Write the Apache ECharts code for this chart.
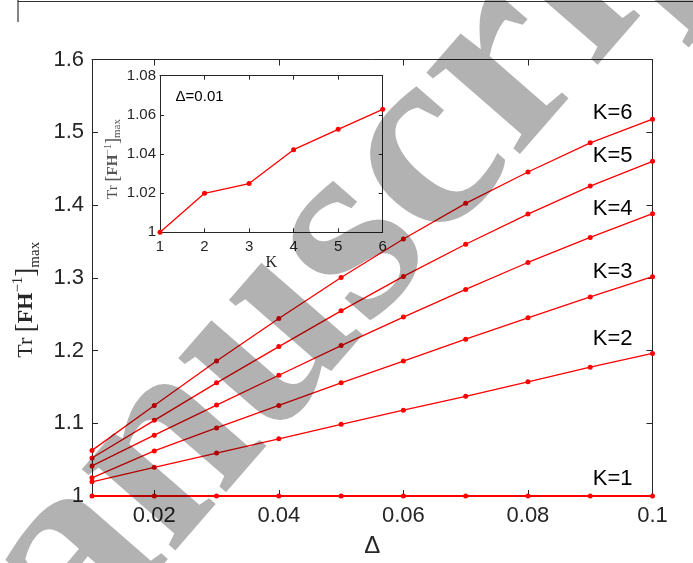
<!DOCTYPE html>
<html>
<head>
<meta charset="utf-8">
<script src="https://cdn.jsdelivr.net/npm/echarts@6/dist/echarts.min.js"></script>
<style>
html,body{margin:0;padding:0;background:#fff;}
#chart{width:693px;height:563px;}
</style>
</head>
<body>
<div id="chart"></div>
<script>
// ---- data ----
const deltas = [0.01, 0.02, 0.03, 0.04, 0.05, 0.06, 0.07, 0.08, 0.09, 0.1];
const K1 = [1, 1, 1, 1, 1, 1, 1, 1, 1, 1];
const K2 = [1.0195, 1.0395, 1.059, 1.0786, 1.0986, 1.118, 1.137, 1.157, 1.177, 1.196];
const K3 = [1.025, 1.062, 1.0936, 1.1245, 1.1555, 1.1855, 1.2155, 1.245, 1.2736, 1.3014];
const K4 = [1.0413, 1.0836, 1.125, 1.166, 1.2068, 1.246, 1.284, 1.321, 1.3554, 1.388];
const K5 = [1.0523, 1.104, 1.1555, 1.2054, 1.2545, 1.3018, 1.346, 1.3875, 1.426, 1.46];
const K6 = [1.0627, 1.1245, 1.1855, 1.244, 1.3004, 1.3532, 1.4023, 1.4454, 1.4855, 1.518];
const seriesNames = ['K=1', 'K=2', 'K=3', 'K=4', 'K=5', 'K=6'];
const insetK = [1, 2, 3, 4, 5, 6];
const insetVals = [1.0, 1.0199, 1.0249, 1.0422, 1.0526, 1.0628];
const xTickValues = [0.02, 0.04, 0.06, 0.08, 0.1];
const insetNote = 'Δ=0.01';

// ---- build ----
const allK = [K1, K2, K3, K4, K5, K6];
const labelAnchorY = [1.0232, 1.2163, 1.3082, 1.3945, 1.4672, 1.5268];
const txt = '#262626';
const RED = '#ff0000';

const chart = echarts.init(document.getElementById('chart'), null, {renderer: 'canvas'});

function boxAxis(base, extra) { return Object.assign({}, base, extra); }

const mainX = {
  type: 'value', gridIndex: 0, min: 0.01, max: 0.1,
  splitLine: {show: false},
  axisLine: {show: true, onZero: false, lineStyle: {color: txt, width: 1}},
  axisTick: {show: true, inside: true, length: 6, customValues: xTickValues, lineStyle: {color: txt}},
};
const mainY = {
  type: 'value', gridIndex: 0, min: 1, max: 1.6, interval: 0.1,
  splitLine: {show: false},
  axisLine: {show: true, onZero: false, lineStyle: {color: txt, width: 1}},
  axisTick: {show: true, inside: true, length: 6, lineStyle: {color: txt}},
};
const insX = {
  type: 'value', gridIndex: 1, min: 1, max: 6, interval: 1,
  splitLine: {show: false},
  axisLine: {show: true, onZero: false, lineStyle: {color: txt, width: 1}},
  axisTick: {show: true, inside: true, length: 4, lineStyle: {color: txt}},
};
const insY = {
  type: 'value', gridIndex: 1, min: 1, max: 1.08, interval: 0.02,
  splitLine: {show: false},
  axisLine: {show: true, onZero: false, lineStyle: {color: txt, width: 1}},
  axisTick: {show: true, inside: true, length: 4, lineStyle: {color: txt}},
};

const serifMain = '"Liberation Serif", "DejaVu Serif", serif';
const sans = '"Liberation Sans", Arial, sans-serif';

const mainSeries = allK.map((vals, i) => ({
  type: 'line', name: seriesNames[i], xAxisIndex: 0, yAxisIndex: 0,
  data: deltas.map((d, j) => [d, vals[j]]),
  symbol: 'circle', symbolSize: 5, showSymbol: true,
  lineStyle: {color: RED, width: i === 0 ? 2 : 1.3},
  itemStyle: {color: RED},
  z: 5, animation: false,
  markPoint: {
    symbol: 'circle', symbolSize: 0, animation: false,
    data: [{coord: [0.0904, labelAnchorY[i]]}],
    label: {show: true, position: 'right', distance: 0, formatter: seriesNames[i],
      color: '#000', fontSize: 22, fontFamily: sans}
  }
}));

const option = {
  animation: false,
  backgroundColor: '#fff',
  grid: [
    {left: 92, top: 59.5, width: 560.5, height: 440, containLabel: false},
    {left: 160, top: 75.7, width: 222.7, height: 156.6, show: true, backgroundColor: '#fff', borderWidth: 0, z: 3}
  ],
  xAxis: [
    boxAxis(mainX, {position: 'bottom',
      axisLabel: {show: true, customValues: xTickValues, margin: 9, color: txt, fontSize: 22,
        fontFamily: sans,
        formatter: v => String(+(+v).toFixed(2))},
      name: 'Δ', nameLocation: 'middle', nameGap: 38,
      nameTextStyle: {color: txt, fontSize: 24, fontFamily: sans}}),
    boxAxis(mainX, {position: 'top', axisLabel: {show: false}}),
    boxAxis(insX, {position: 'bottom', z: 4,
      axisLabel: {show: true, margin: 7, color: txt, fontSize: 15, fontFamily: sans},
      name: 'K', nameLocation: 'middle', nameGap: 22,
      nameTextStyle: {color: txt, fontSize: 16, fontFamily: serifMain}}),
    boxAxis(insX, {position: 'top', z: 4, axisLabel: {show: false}})
  ],
  yAxis: [
    boxAxis(mainY, {position: 'left',
      axisLabel: {show: true, margin: 8, color: txt, fontSize: 22,
        fontFamily: sans,
        formatter: v => (Math.abs(v - 1) < 1e-9 ? '1' : (+v).toFixed(1))},
      name: '{n|Tr }{br|[}{b|FH}{sup|−1}{br|]}{sub|max}', nameLocation: 'middle', nameGap: 45, nameRotate: 90,
      nameTextStyle: {color: txt, padding: [0, 44, 0, 0], rich: {
        n: {fontSize: 22, fontFamily: serifMain, color: txt, lineHeight: 32, verticalAlign: 'middle'},
        br: {fontSize: 27, fontFamily: serifMain, color: txt, lineHeight: 32, verticalAlign: 'middle'},
        b: {fontSize: 22, fontFamily: serifMain, fontWeight: 'bold', color: txt, lineHeight: 32, verticalAlign: 'middle'},
        sup: {fontSize: 15, fontFamily: serifMain, color: txt, lineHeight: 16, verticalAlign: 'top'},
        sub: {fontSize: 15, fontFamily: serifMain, color: txt, lineHeight: 16, verticalAlign: 'bottom'}
      }}}),
    boxAxis(mainY, {position: 'right', axisLabel: {show: false}}),
    boxAxis(insY, {position: 'left', z: 4,
      axisLabel: {show: true, margin: 4, color: txt, fontSize: 15, fontFamily: sans,
        formatter: v => (Math.abs(v - 1) < 1e-9 ? '1' : (+v).toFixed(2))},
      name: '{n|Tr }{br|[}{b|FH}{sup|−1}{br|]}{sub|max}', nameLocation: 'middle', nameGap: 28, nameRotate: 90,
      nameTextStyle: {color: txt, padding: [0, 10, 0, 0], rich: {
        n: {fontSize: 15, fontFamily: serifMain, color: '#555', lineHeight: 20, verticalAlign: 'middle'},
        br: {fontSize: 18, fontFamily: serifMain, color: '#555', lineHeight: 20, verticalAlign: 'middle'},
        b: {fontSize: 15, fontFamily: serifMain, fontWeight: 'bold', color: '#555', lineHeight: 20, verticalAlign: 'middle'},
        sup: {fontSize: 10, fontFamily: serifMain, color: '#555', lineHeight: 10, verticalAlign: 'top'},
        sub: {fontSize: 11, fontFamily: serifMain, color: '#555', lineHeight: 11, verticalAlign: 'bottom'}
      }}}),
    boxAxis(insY, {position: 'right', z: 4, axisLabel: {show: false}})
  ],
  series: mainSeries.concat([{
    type: 'line', name: 'inset', xAxisIndex: 2, yAxisIndex: 2,
    data: insetK.map((k, j) => [k, insetVals[j]]),
    symbol: 'circle', symbolSize: 5,
    lineStyle: {color: RED, width: 1.3}, itemStyle: {color: RED}, z: 6, animation: false,
    markPoint: {
      symbol: 'circle', symbolSize: 0, animation: false,
      data: [{coord: [1.35, 1.069]}],
      label: {show: true, position: 'right', distance: 0, formatter: insetNote,
        color: '#000', fontSize: 15, fontFamily: sans}
    }
  }]),
  graphic: [
    {type: 'line', z: 50, shape: {x1: 18, y1: 1.5, x2: 693, y2: 1.5}, style: {stroke: '#333', lineWidth: 1.2}},
    {type: 'line', z: 50, shape: {x1: 18, y1: 0, x2: 18, y2: 22}, style: {stroke: '#333', lineWidth: 1.2}},
    {type: 'text', z: 100, x: 305, y: 295, rotation: 49 * Math.PI / 180,
      style: {text: 'Manuscript', fontSize: 270, fontWeight: 'bold', fontFamily: '"Liberation Serif", serif',
        fill: 'rgba(0,0,0,0.3)', textAlign: 'center', textVerticalAlign: 'middle', align: 'center', verticalAlign: 'middle'}}
  ]
};
chart.setOption(option);
</script>
</body>
</html>
